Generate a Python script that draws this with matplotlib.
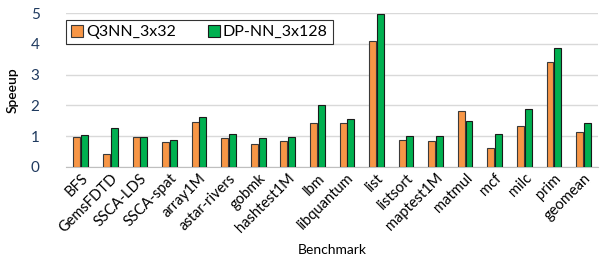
import numpy as np
import matplotlib
matplotlib.use("Agg")
import matplotlib.pyplot as plt

plt.rcParams['font.family'] = ['Lato', 'DejaVu Sans']

benchmarks = ['BFS', 'GemsFDTD', 'SSCA-LDS', 'SSCA-spat', 'array1M', 'astar-rivers',
              'gobmk', 'hashtest1M', 'lbm', 'libquantum', 'list', 'listsort',
              'maptest1M', 'matmul', 'mcf', 'milc', 'prim', 'geomean']
q3nn = [0.98, 0.43, 0.98, 0.80, 1.47, 0.95, 0.74, 0.84, 1.44, 1.44, 4.09, 0.89,
        0.84, 1.82, 0.60, 1.32, 3.40, 1.15]
dpnn = [1.03, 1.27, 0.98, 0.87, 1.62, 1.06, 0.95, 0.98, 2.02, 1.56, 4.97, 0.99,
        0.99, 1.50, 1.07, 1.88, 3.86, 1.42]
yticks = [0, 1, 2, 3, 4, 5]

fig = plt.figure(figsize=(6.0, 2.62), dpi=100)
ax = fig.add_axes([0.11, 0.363, 0.887, 0.587])

x = np.arange(len(benchmarks))
w = 0.235
ax.bar(x - 0.13, q3nn, w, color='#F79646', edgecolor='#3a3a3a', linewidth=0.8,
       label='Q3NN_3x32', zorder=3)
ax.bar(x + 0.13, dpnn, w, color='#00B050', edgecolor='#1a1a1a', linewidth=0.8,
       label='DP-NN_3x128', zorder=3)

ax.set_xlim(-0.5, len(benchmarks) - 0.5)
ax.set_ylim(0, 5)
ax.set_yticks(yticks)
ax.set_yticklabels([str(t) for t in yticks], fontsize=11, color='#1F3A5F')
ax.set_xticks(x)
ax.set_xticklabels(benchmarks, rotation=45, ha='right', rotation_mode='anchor',
                   fontsize=10.5)
ax.tick_params(axis='both', length=0, pad=3)
ax.tick_params(axis='y', pad=19)
ax.grid(axis='y', color='#D9D9D9', linewidth=1.0, zorder=0)
for s in ['top', 'right', 'left']:
    ax.spines[s].set_visible(False)
ax.spines['bottom'].set_color('#BFBFBF')

ax.set_ylabel('Speeup', fontsize=10, fontweight='semibold', labelpad=9)
ax.set_xlabel('Benchmark', fontsize=10, labelpad=6)

leg = ax.legend(loc='upper left', bbox_to_anchor=(0.0, 0.955), ncol=2,
                fontsize=11.5, frameon=True, fancybox=False, borderaxespad=0,
                handlelength=0.75, handleheight=0.75, handletextpad=0.2,
                columnspacing=2.0, borderpad=0.3)
leg.get_frame().set_edgecolor('black')
leg.get_frame().set_linewidth(0.8)

fig.savefig('out.png', dpi=100)
